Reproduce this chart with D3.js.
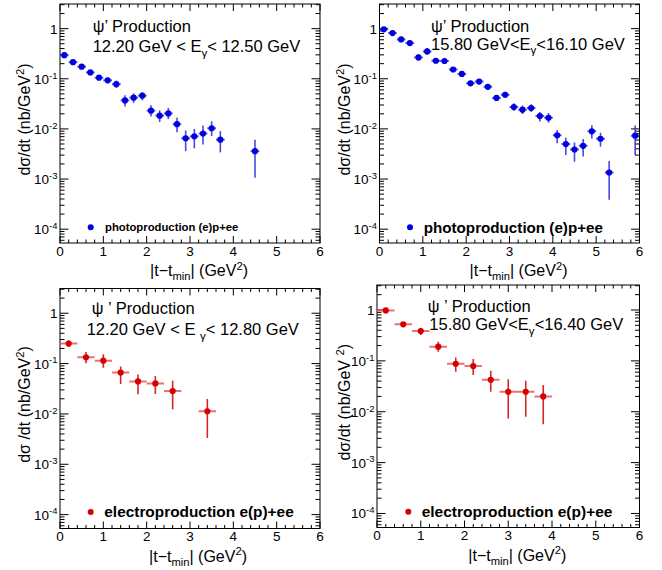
<!DOCTYPE html>
<html><head><meta charset="utf-8">
<script src="https://cdn.jsdelivr.net/npm/d3@7"></script>
<style>body{margin:0;background:#fff}svg{display:block}text{font-family:"Liberation Sans",Arial,Helvetica,sans-serif;fill:#000}</style>
</head><body><svg id="c" width="662" height="570"></svg>
<script>
// ---------- data ----------
const xTickValues = [0, 1, 2, 3, 4, 5, 6];
const yDecadeValues = [1e-4, 1e-3, 1e-2, 1e-1, 1];
const xDomain = [0, 6];
const yDomain = [5.3e-5, 3.1];

// photoproduction, 12.20 < Eg < 12.50 GeV
const photoLowT  = [0.1,0.3,0.5,0.7,0.9,1.1,1.3,1.5,1.7,1.9,2.1,2.3,2.5,2.7,2.9,3.1,3.3,3.5,3.7,4.5];
const photoLowY  = [0.296,0.214,0.174,0.134,0.105,0.093,0.078,0.037,0.042,0.046,0.0231,0.0184,0.0204,0.0124,0.0065,0.0071,0.0081,0.0103,0.0061,0.0036];
const photoLowLo = [0.270,0.195,0.159,0.122,0.096,0.081,0.066,0.028,0.033,0.037,0.0177,0.0137,0.0157,0.0086,0.0036,0.0041,0.0049,0.0072,0.0034,0.00106];
const photoLowHi = [0.325,0.235,0.191,0.147,0.115,0.107,0.092,0.047,0.051,0.054,0.0295,0.0235,0.0261,0.0167,0.0093,0.0100,0.0117,0.0142,0.0090,0.0061];

// photoproduction, 15.80 < Eg < 16.10 GeV
const photoHighT  = [0.1,0.3,0.5,0.7,0.9,1.1,1.3,1.5,1.7,1.9,2.1,2.3,2.5,2.7,2.9,3.1,3.3,3.5,3.7,3.9,4.1,4.3,4.5,4.7,4.9,5.1,5.3,5.9];
const photoHighY  = [0.97,0.815,0.608,0.516,0.267,0.351,0.229,0.226,0.153,0.125,0.081,0.088,0.069,0.0415,0.048,0.0273,0.0242,0.0261,0.0180,0.0167,0.00743,0.00498,0.00388,0.0046,0.00895,0.00637,0.00135,0.00732];
const photoHighLo = [0.884,0.742,0.554,0.470,0.232,0.301,0.204,0.201,0.136,0.111,0.072,0.078,0.0614,0.0361,0.0418,0.0230,0.0198,0.0217,0.0140,0.0132,0.0052,0.00303,0.00222,0.0028,0.00646,0.00439,0.000385,0.00303];
const photoHighHi = [1.065,0.895,0.668,0.567,0.307,0.409,0.257,0.254,0.172,0.140,0.091,0.099,0.0775,0.0477,0.0552,0.0324,0.0292,0.0310,0.0217,0.0208,0.0095,0.00668,0.00537,0.00628,0.01183,0.00842,0.00228,0.01165];

// electroproduction, 12.20 < Eg < 12.80 GeV
const electroLowT  = [0.2,0.6,1.0,1.4,1.8,2.2,2.6,3.4];
const electroLowY  = [0.25,0.133,0.114,0.0662,0.0443,0.0404,0.0284,0.0113];
const electroLowLo = [0.215,0.102,0.0824,0.0393,0.0247,0.0248,0.0124,0.00333];
const electroLowHi = [0.291,0.170,0.153,0.0873,0.0604,0.0569,0.0458,0.0197];

// electroproduction, 15.80 < Eg < 16.40 GeV
const electroHighT  = [0.2,0.6,1.0,1.4,1.8,2.2,2.6,3.0,3.4,3.8];
const electroHighY  = [0.98,0.523,0.386,0.190,0.0877,0.079,0.0425,0.0247,0.0247,0.020];
const electroHighLo = [0.895,0.478,0.322,0.151,0.061,0.0525,0.0247,0.0074,0.00795,0.0057];
const electroHighHi = [1.073,0.573,0.448,0.238,0.117,0.1085,0.0639,0.0433,0.0407,0.0334];

const photoBinHalf = 0.1;
const electroBinHalf = 0.2;

const legendLabels = ["photoproduction (e)p+ee", "electroproduction e(p)+ee"];

// ---------- layout / style ----------
const BLUE = {mark:"#0000e0", hbar:"#3a3ae0", vbar:"#2a2ad8"};
const RED  = {mark:"#d60000", hbar:"#e8585c", vbar:"#cc0000"};

const panels = [
  {id:"tl", T:photoLowT, Y:photoLowY, Lo:photoLowLo, Hi:photoLowHi, xe:photoBinHalf, col:BLUE,
   f:{x0:60,x1:320,y0:4,y1:243},
   h1:{x:92.7,y:31.7,t:[["ψ’ Production"]]},
   h2:{x:92.7,y:52,t:[["12.20 GeV < E"],["γ","sub"],["< 12.50 GeV"]]},
   leg:{mx:90.7,my:227.3,tx:105,ty:231,fs:11.3,label:legendLabels[0]},
   yt:{x:30,t:[["dσ/dt (nb/GeV"],["2","sup"],[")"]]},
   xt:{dx:9}},
  {id:"tr", T:photoHighT, Y:photoHighY, Lo:photoHighLo, Hi:photoHighHi, xe:photoBinHalf, col:BLUE,
   f:{x0:379.5,x1:639.5,y0:4,y1:243},
   h1:{x:431,y:31.5,t:[["ψ’ Production"]]},
   h2:{x:431,y:49.5,t:[["15.80 GeV<E"],["γ","sub"],["<16.10 GeV"]]},
   leg:{mx:410,my:227.3,tx:423.7,ty:232.5,fs:15.2,label:legendLabels[0]},
   yt:{x:350,t:[["dσ/dt (nb/GeV"],["2","sup"],[")"]]},
   xt:{dx:9}},
  {id:"bl", T:electroLowT, Y:electroLowY, Lo:electroLowLo, Hi:electroLowHi, xe:electroBinHalf, col:RED,
   f:{x0:60,x1:320,y0:288.5,y1:528.5},
   h1:{x:91.7,y:314.3,t:[["ψ ’ Production"]]},
   h2:{x:86.7,y:335,t:[["12.20 GeV < E "],["γ","sub"],["< 12.80 GeV"]]},
   leg:{mx:90.7,my:512,tx:104.3,ty:517,fs:15.4,label:legendLabels[1]},
   yt:{x:30,t:[["dσ /dt (nb/GeV"],["2","sup"],[")"]]},
   xt:{dx:8}},
  {id:"br", T:electroHighT, Y:electroHighY, Lo:electroHighLo, Hi:electroHighHi, xe:electroBinHalf, col:RED,
   f:{x0:377,x1:639.5,y0:285,y1:527.5},
   h1:{x:427.7,y:311.7,t:[["ψ ’ Production"]]},
   h2:{x:429.3,y:330,t:[["15.80 GeV<E"],["γ","sub"],["<16.40 GeV"]]},
   leg:{mx:408.3,my:511.7,tx:421.7,ty:517,fs:15.5,label:legendLabels[1]},
   yt:{x:350,t:[["dσ/dt (nb/GeV "],["2","sup"],[")"]]},
   xt:{dx:9}}
];

const svg = d3.select("#c");
svg.append("rect").attr("width",662).attr("height",570).attr("fill","#fff");

function rich(sel, parts, fs) {
  let shift = 0;
  parts.forEach(p => {
    const ts = sel.append("tspan").text(p[0]);
    let target = 0, size = fs;
    if (p[1] === "sub") { target = fs*0.28; size = fs*0.7; }
    if (p[1] === "sup") { target = -fs*0.38; size = fs*0.7; }
    ts.attr("dy", target - shift).attr("font-size", size);
    shift = target;
  });
  return sel;
}

panels.forEach(P => {
  const f = P.f;
  const x = d3.scaleLinear().domain(xDomain).range([f.x0, f.x1]);
  const y = d3.scaleLog().domain(yDomain).range([f.y1, f.y0]);
  const g = svg.append("g");

  g.append("clipPath").attr("id","clip-"+P.id).append("rect")
    .attr("x",f.x0).attr("y",f.y0).attr("width",f.x1-f.x0).attr("height",f.y1-f.y0);

  // ticks (ROOT style, inside frame on all sides)
  const tk = g.append("g").attr("stroke","#000").attr("stroke-width",1);
  const xMinor = d3.range(0, 6.0001, 0.2);
  xMinor.forEach(v => {
    const major = Math.abs(v - Math.round(v)) < 1e-6;
    const L = major ? 7 : 3.5;
    const px = x(v);
    tk.append("line").attr("x1",px).attr("x2",px).attr("y1",f.y1).attr("y2",f.y1-L);
    tk.append("line").attr("x1",px).attr("x2",px).attr("y1",f.y0).attr("y2",f.y0+L);
  });
  const yMinor = [];
  for (let d=-5; d<=0; d++) for (let k=1; k<=9; k++) {
    const v = k*Math.pow(10,d);
    if (v >= yDomain[0] && v <= yDomain[1]) yMinor.push({v, major:k===1});
  }
  yMinor.forEach(o => {
    const L = o.major ? 8.5 : 4.5;
    const py = y(o.v);
    tk.append("line").attr("y1",py).attr("y2",py).attr("x1",f.x0).attr("x2",f.x0+L);
    tk.append("line").attr("y1",py).attr("y2",py).attr("x1",f.x1).attr("x2",f.x1-L);
  });

  // frame
  g.append("rect").attr("x",f.x0).attr("y",f.y0).attr("width",f.x1-f.x0).attr("height",f.y1-f.y0)
    .attr("fill","none").attr("stroke","#000").attr("stroke-width",1);

  // x tick labels
  xTickValues.forEach(v => {
    g.append("text").attr("x",x(v)).attr("y",f.y1+12.5).attr("text-anchor","middle")
      .attr("font-size",13.5).text(v);
  });
  // y tick labels
  yDecadeValues.forEach(v => {
    const e = Math.round(Math.log10(v));
    const t = g.append("text").attr("x",f.x0-2.5).attr("y",y(v)+5).attr("text-anchor","end").attr("font-size",13.5);
    if (e === 0) t.text("1");
    else rich(t, [["10"],[String(e),"sup"]], 13.5);
  });

  // axis titles
  const xt = g.append("text").attr("x",(f.x0+f.x1)/2+P.xt.dx).attr("y",f.y1+33).attr("text-anchor","middle").attr("font-size",16);
  rich(xt, [["|t−t"],["min","sub"],["| (GeV"],["2","sup"],[")"]], 16);
  const yc = (f.y0+f.y1)/2 - 4;
  const yt = g.append("text").attr("transform",`translate(${P.yt.x},${yc}) rotate(-90)`).attr("text-anchor","middle").attr("font-size",16);
  rich(yt, P.yt.t, 16);

  // header text
  rich(g.append("text").attr("x",P.h1.x).attr("y",P.h1.y).attr("font-size",16.5), P.h1.t, 16.5);
  rich(g.append("text").attr("x",P.h2.x).attr("y",P.h2.y).attr("font-size",16.5), P.h2.t, 16.5);

  // data
  const pts = P.T.map((t,i) => ({t, v:P.Y[i], lo:P.Lo[i], hi:P.Hi[i]}));
  const dg = g.append("g").attr("clip-path",`url(#clip-${P.id})`);
  dg.selectAll("line.h").data(pts).join("line").attr("class","h")
    .attr("x1",d=>x(d.t-P.xe)).attr("x2",d=>x(d.t+P.xe)).attr("y1",d=>y(d.v)).attr("y2",d=>y(d.v))
    .attr("stroke",P.col.hbar).attr("stroke-width",2).attr("stroke-opacity",0.85);
  dg.selectAll("line.v").data(pts).join("line").attr("class","v")
    .attr("x1",d=>x(d.t)).attr("x2",d=>x(d.t)).attr("y1",d=>y(d.lo)).attr("y2",d=>y(d.hi))
    .attr("stroke",P.col.vbar).attr("stroke-width",1.6).attr("stroke-opacity",0.85);
  dg.selectAll("circle").data(pts).join("circle")
    .attr("cx",d=>x(d.t)).attr("cy",d=>y(d.v)).attr("r",3.1).attr("fill",P.col.mark);

  // legend
  g.append("circle").attr("cx",P.leg.mx).attr("cy",P.leg.my).attr("r",3).attr("fill",P.col.mark);
  g.append("text").attr("x",P.leg.tx).attr("y",P.leg.ty).attr("font-size",P.leg.fs)
    .attr("font-weight","bold").text(P.leg.label);
});
</script></body></html>
